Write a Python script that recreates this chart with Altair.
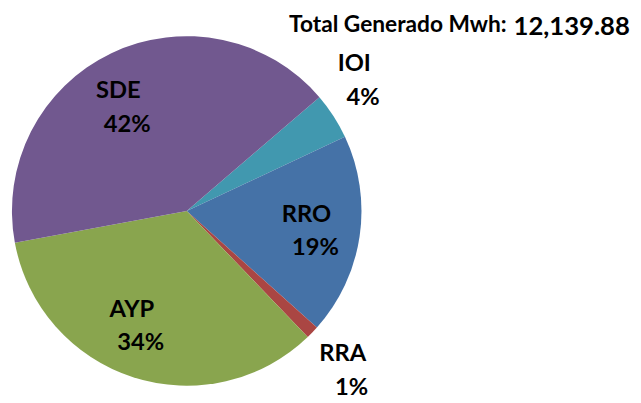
import altair as alt
import pandas as pd
import math

# data
categories = ["IOI", "RRO", "RRA", "AYP", "SDE"]
mwh = [522.0, 2258.0, 146.0, 4160.0, 5053.88]
colors = ["#4198AF", "#4572A7", "#AA4643", "#89A54E", "#71588F"]

# label layout (radius in px, angular shift in degrees from slice middle)
label_radius = [218, 127, 229, 128, 123]
label_shift = [-4.3, 1.1, 1.0, 5.9, -6.5]

START = 49.4 * math.pi / 180
CX, CY, R = 181, 203, 177
FONT = "Lato"

df = pd.DataFrame({
    "cat": categories,
    "mwh": mwh,
    "ord": list(range(len(categories))),
    "lr": label_radius,
    "sh": label_shift,
})

base = alt.Chart(df)

color = alt.Color("cat:N", scale=alt.Scale(domain=categories, range=colors), legend=None)

pie = base.mark_arc(outerRadius=R).encode(
    theta=alt.Theta("mwh:Q", stack=True,
                    scale=alt.Scale(range=[START, START + 2 * math.pi])),
    order=alt.Order("ord:Q"),
    color=color,
    x=alt.value(CX),
    y=alt.value(CY),
)

label_base = base.transform_joinaggregate(
    total="sum(mwh)"
).transform_window(
    cum="sum(mwh)", sort=[alt.SortField("ord")], frame=[None, 0]
).transform_calculate(
    mid=f"{START} + 2*PI*(datum.cum - datum.mwh/2)/datum.total + datum.sh*PI/180",
    pct="format(datum.mwh/datum.total, '.0%')",
)

label_enc = dict(
    theta=alt.Theta("mid:Q", scale=None, stack=False),
    radius=alt.Radius("lr:Q", scale=None),
    x=alt.value(CX),
    y=alt.value(CY),
)

names = label_base.mark_text(
    font=FONT, fontWeight="bold", fontSize=24,
    align="center", baseline="middle", color="black", dy=-17, dx=-4,
).encode(text="cat:N", **label_enc)

pcts = label_base.mark_text(
    font=FONT, fontWeight="bold", fontSize=24,
    align="center", baseline="middle", color="black", dy=17, dx=5,
).encode(text="pct:N", **label_enc)

title1 = base.transform_aggregate(total="sum(mwh)").transform_calculate(
    t="'Total Generado Mwh:'"
).mark_text(
    font=FONT, fontWeight="bold", fontSize=23, align="right", baseline="alphabetic", color="black"
).encode(text="t:N", x=alt.value(505), y=alt.value(22))

title2 = base.transform_aggregate(total="sum(mwh)").transform_calculate(
    t="format(datum.total, ',.2f')"
).mark_text(
    font=FONT, fontWeight="bold", fontSize=26, align="left", baseline="alphabetic", color="black"
).encode(text="t:N", x=alt.value(512), y=alt.value(25))

chart = alt.layer(pie, names, pcts, title1, title2).properties(
    width=633, height=395,
    autosize=alt.AutoSizeParams(type="none"),
    padding=0,
).configure_view(stroke=None)

chart.save("out.html", embed_options={"renderer": "svg", "actions": False})
